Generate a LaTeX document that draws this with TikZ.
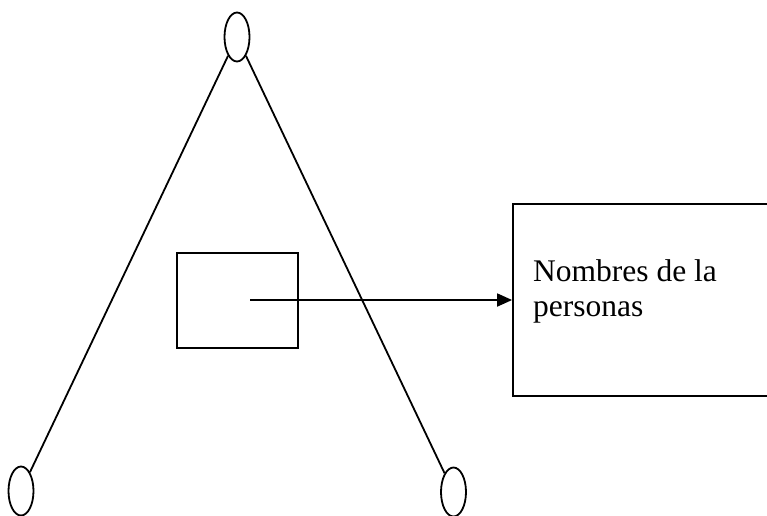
\documentclass[tikz,border=0pt]{standalone}
\usepackage{fontspec}
\setmainfont{Liberation Serif}
\usetikzlibrary{positioning, arrows.meta, shapes.geometric}
\tikzset{
    linea/.style={line width=1.8pt, black},
    nodoelip/.style={ellipse, draw, line width=1.8pt, minimum width=25pt, minimum height=49pt, inner sep=0pt},
    marco/.style={rectangle, draw, line width=1.8pt, inner sep=0pt},
    texto/.style={font=\fontsize{31.5}{35}\selectfont, align=left, inner sep=0pt}
}

\begin{document}
\begin{tikzpicture}[x=1pt, y=-1pt]
    \useasboundingbox[fill=white] (0,0) rectangle (767,515);
    % los tres nodos
    \node[nodoelip] (arriba) at (237,37) {};
    \node[nodoelip] (izq) at (21,491) {};
    \node[nodoelip] (der) at (453.5,492) {};
    \draw[linea] (arriba) -- (izq);
    \draw[linea] (arriba) -- (der);
    % cuadros
    \node[marco, minimum width=121pt, minimum height=95pt] (cuadro) at (237.5,300.5) {};
    \node[marco, minimum width=267pt, minimum height=192pt] (nombres) at (646.5,300) {};
    \node[texto, anchor=north west] (etiqueta) at (533,259.5) {Nombres de la\\personas};
    \coordinate (inicio) at (250,300);
    \draw[linea, -{Triangle[length=15pt, width=13pt]}] (inicio) -- (nombres.west);
\end{tikzpicture}
\end{document}
